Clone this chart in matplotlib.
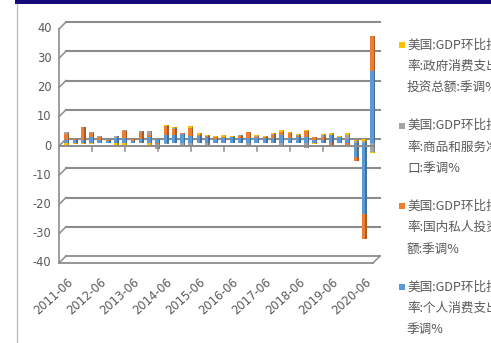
import matplotlib
matplotlib.use("Agg")
import matplotlib.pyplot as plt
from matplotlib.transforms import ScaledTranslation
from matplotlib.patches import Rectangle
from matplotlib.lines import Line2D
from matplotlib.colors import to_rgb

# Quarterly contributions to US real GDP growth (annualized, %)
quarters = [
    "2011-06", "2011-09", "2011-12", "2012-03", "2012-06", "2012-09", "2012-12",
    "2013-03", "2013-06", "2013-09", "2013-12", "2014-03", "2014-06", "2014-09",
    "2014-12", "2015-03", "2015-06", "2015-09", "2015-12", "2016-03", "2016-06",
    "2016-09", "2016-12", "2017-03", "2017-06", "2017-09", "2017-12", "2018-03",
    "2018-06", "2018-09", "2018-12", "2019-03", "2019-06", "2019-09", "2019-12",
    "2020-03", "2020-06", "2020-09",
]
consumption = [1.0, 1.0, 0.8, 1.8, 0.7, 0.6, 1.4, 1.5, 0.6, 1.2, 1.9, 1.2, 2.5, 2.4,
               3.0, 2.3, 2.2, 1.8, 1.3, 1.6, 1.8, 1.7, 1.7, 1.4, 1.6, 1.5, 2.6, 1.5,
               2.0, 1.9, 1.0, 0.8, 2.5, 1.8, 1.1, -4.8, -24.5, 24.5]
investment = [2.0, 0.2, 4.5, 1.3, 1.3, 0.3, 0.2, 2.6, 0.6, 2.4, 0.5, -0.6, 3.2, 2.1,
              0.4, 2.7, 0.5, 0.4, 0.6, 0.4, 0.2, 0.5, 1.8, 0.6, 0.3, 1.2, 1.1, 1.6,
              0.3, 2.0, 0.8, 1.0, -1.0, 0.2, -0.8, -1.4, -8.5, 12.0]
net_exports = [0.5, 0.1, -0.1, 0.4, 0.3, 0.1, 0.6, 0.2, 0.1, 0.2, 1.6, -1.5, -0.4, 0.3,
               -1.0, -1.1, 0.0, -0.8, -0.3, 0.0, 0.0, 0.3, -1.3, 0.3, 0.1, 0.1, -0.8, 0.2,
               0.3, -1.9, -0.3, 0.6, -0.6, -0.1, 1.5, 0.4, 0.6, -3.1]
government = [-0.7, -0.6, -0.4, -0.4, -0.3, -0.3, -1.1, -0.8, -0.1, -0.3, -0.8, -0.2, 0.3, 0.4,
              -0.1, 0.5, 0.5, 0.4, 0.3, 0.7, 0.3, 0.1, 0.2, 0.2, 0.1, 0.3, 0.5, 0.4,
              0.4, 0.3, -0.2, 0.5, 0.8, 0.3, 0.5, 0.3, 0.6, -0.6]

# Stacking order, bottom to top
stack_values = [consumption, investment, net_exports, government]
stack_colors = ["#5B9BD5", "#ED7D31", "#A5A5A5", "#FFC000"]
legend_lines = [
    ["美国:GDP环比拉动", "率:政府消费支出和", "投资总额:季调%"],
    ["美国:GDP环比拉动", "率:商品和服务净出", "口:季调%"],
    ["美国:GDP环比拉动", "率:国内私人投资总", "额:季调%"],
    ["美国:GDP环比拉动", "率:个人消费支出:", "季调%"],
]
legend_colors = ["#FFC000", "#A5A5A5", "#ED7D31", "#5B9BD5"]
y_ticks = [40, 30, 20, 10, 0, -10, -20, -30, -40]
label_every = 4

W, H = 491, 343
fig = plt.figure(figsize=(W / 100, H / 100), dpi=100)
fig.patch.set_facecolor("white")

# Back wall of the pseudo-3D plot, in pixels
L, R, T, B = 66, 380, 22, 256
ax = fig.add_axes([L / W, 1 - B / H, (R - L) / W, (B - T) / H])
n = len(quarters)
ax.set_xlim(-0.5, n - 0.5)
ax.set_ylim(-40, 40)
ax.set_autoscale_on(False)
ax.axis("off")

DEPTH = 7  # px shift from back wall to front edge
grid_c = "#8C8C8C"
text_c = "#595959"


def shift(px, py):
    return ax.transData + ScaledTranslation(px / 100, py / 100, fig.dpi_scale_trans)


front = shift(-DEPTH, -DEPTH)
middle = shift(-DEPTH / 2, -DEPTH / 2)


def darker(c, f=0.72):
    r, g, b = to_rgb(c)
    return (r * f, g * f, b * f)


x0, x1 = -0.5, n - 0.5

# Back-wall gridlines
for v in y_ticks[:-1]:
    ax.axhline(v, color=grid_c, lw=1.5, clip_on=False, zorder=2)

# Floor slab at -40: back and front edges
ax.plot([x0, x1], [-40, -40], color=grid_c, lw=1.3, clip_on=False, zorder=2)
ax.plot([x0, x1], [-40, -40], color=grid_c, lw=1.3, clip_on=False, zorder=2,
        transform=front)

# Left axis line (front)
ax.plot([x0, x0], [-40, 40], color=grid_c, lw=1.2, clip_on=False, zorder=2,
        transform=front)


def fig_pt(x, y, dx=0, dy=0):
    px, py = ax.transData.transform((x, y))
    return fig.transFigure.inverted().transform((px + dx, py + dy))


def fig_line(p, q, lw=1.1):
    fig.add_artist(Line2D([p[0], q[0]], [p[1], q[1]], color=grid_c, lw=lw,
                          transform=fig.transFigure))


# Short diagonals joining front and back edges
for v in y_ticks:
    fig_line(fig_pt(x0, v, -DEPTH, -DEPTH), fig_pt(x0, v))
fig_line(fig_pt(x1, -40, -DEPTH, -DEPTH), fig_pt(x1, -40))

# Stacked columns: a lit front face plus a shaded side face
xs = list(range(n))
pos_base = [0.0] * n
neg_base = [0.0] * n
for vals, col in zip(stack_values, stack_colors):
    bottoms = [pos_base[i] if v >= 0 else neg_base[i] for i, v in enumerate(vals)]
    faces = ax.bar([x - 0.06 for x in xs], vals, bottom=bottoms, width=0.42, color=col,
                   zorder=3, linewidth=0, clip_on=False)
    sides = ax.bar([x + 0.24 for x in xs], vals, bottom=bottoms, width=0.18,
                   color=darker(col), zorder=3, linewidth=0, clip_on=False)
    for p in list(faces) + list(sides):
        p.set_transform(middle)
    for i, v in enumerate(vals):
        if v >= 0:
            pos_base[i] += v
        else:
            neg_base[i] += v

# Category axis at zero: front edge with group tick marks
ax.plot([x0, x1], [0, 0], color=grid_c, lw=1.4, clip_on=False, zorder=4,
        transform=front)
tick_len = 5 * 80 / (B - T)
for k in range(label_every, n, label_every):
    ax.plot([k - 0.5, k - 0.5], [0, -tick_len], color=grid_c, lw=1.1, clip_on=False,
            zorder=4, transform=front)

# Value axis labels
for v in y_ticks:
    px, py = fig_pt(x0, v, -DEPTH - 7.5, -DEPTH)
    fig.text(px, py, str(v), ha="right", va="center", fontsize=8.3,
             color=text_c, family="DejaVu Sans")

# Category labels
for i in range(0, n, label_every):
    px, py = fig_pt(i, -40, -DEPTH + 4, -DEPTH - 13)
    fig.text(px, py, quarters[i], ha="right", va="top", rotation=42,
             rotation_mode="anchor", fontsize=8.3, color=text_c, family="DejaVu Sans")

# Legend
cjk = ["Noto Sans CJK SC", "DejaVu Sans"]
for j, (lines, col) in enumerate(zip(legend_lines, legend_colors)):
    y_top = 45 + 80.7 * j
    fig.add_artist(Rectangle((399 / W, 1 - (y_top + 3) / H), 6 / W, 6 / H,
                             facecolor=col, edgecolor="none", transform=fig.transFigure))
    for k, line in enumerate(lines):
        fig.text(407 / W, 1 - (y_top + 21.3 * k) / H, line, ha="left", va="center",
                 fontsize=9.1, color=text_c, family=cjk)

# Frame bits: dark title band and the left border
fig.add_artist(Rectangle((15 / W, 1 - 4.3 / H), 1, 4.3 / H, facecolor="#16097C",
                         edgecolor="none", transform=fig.transFigure))
fig.add_artist(Line2D([16.5 / W, 16.5 / W], [0, 1 - 4.3 / H], color="#C0C0C0", lw=1.0,
                      transform=fig.transFigure))

fig.savefig("out.png", dpi=100)
